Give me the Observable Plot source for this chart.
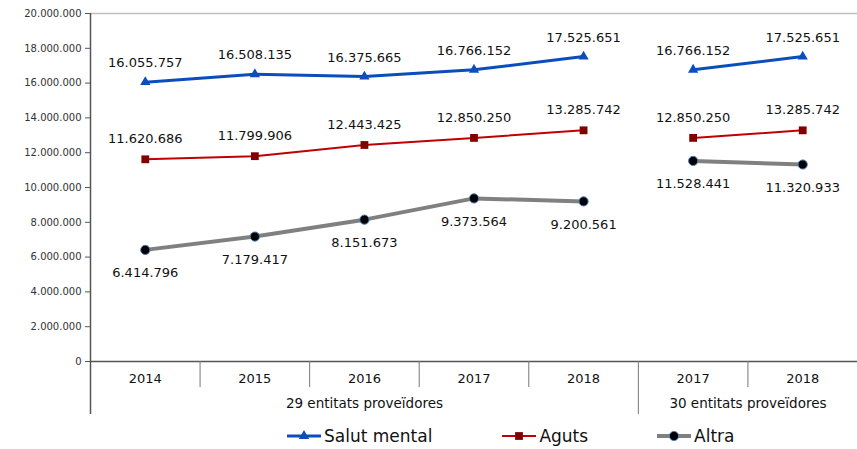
<!DOCTYPE html>
<html>
<head>
<meta charset="utf-8">
<script src="https://cdn.jsdelivr.net/npm/d3@7"></script>
<script src="https://cdn.jsdelivr.net/npm/@observablehq/plot@0.6"></script>
<style>
  html, body { margin: 0; padding: 0; background: #fff; }
  #chart svg { display: block; }
  #legend { display: flex; align-items: center; height: 27px; padding-left: 287px;
            font-family: "DejaVu Sans", Verdana, sans-serif; font-size: 17px; color: #111; }
  #legend .item { display: flex; align-items: center; }
  #legend .item:nth-child(2) { margin-left: 70px; }
  #legend .item:nth-child(3) { margin-left: 69px; }
  #legend svg { display: block; margin-right: 3px; }
</style>
</head>
<body>
<div id="chart"></div>
<div id="legend"></div>
<script>
// ---- data ----
const yearLabels = ["2014", "2015", "2016", "2017", "2018", "2017", "2018"];
const groupOf = [0, 0, 0, 0, 0, 1, 1];
const groupLabels = ["29 entitats proveïdores", "30 entitats proveïdores"];
const seriesNames = ["Salut mental", "Aguts", "Altra"];
const salutMental = [16055757, 16508135, 16375665, 16766152, 17525651, 16766152, 17525651];
const aguts = [11620686, 11799906, 12443425, 12850250, 13285742, 12850250, 13285742];
const altra = [6414796, 7179417, 8151673, 9373564, 9200561, 11528441, 11320933];
const yTicks = [0, 2000000, 4000000, 6000000, 8000000, 10000000, 12000000, 14000000, 16000000, 18000000, 20000000];

// ---- styles ----
const styles = {
  "Salut mental": {color: "#0a4dbd", width: 3, symbol: "triangle", r: 3.8, fill: "#0a4dbd", stroke: "none", dy: -19},
  "Aguts": {color: "#c00000", width: 2, symbol: "square", r: 4.4, fill: "#800000", stroke: "none", dy: -20},
  "Altra": {color: "#808080", width: 4, symbol: "circle", r: 4.6, fill: "#000000", stroke: "#4a7ebb", dy: 23}
};

const fmt = d3.formatLocale({decimal: ",", thousands: ".", grouping: [3], currency: ["", "€"]}).format(",d");

const values = {"Salut mental": salutMental, "Aguts": aguts, "Altra": altra};
const rows = seriesNames.flatMap(s => values[s].map((v, i) => ({series: s, i, v, seg: groupOf[i]})));

const idx = d3.range(yearLabels.length);
const seps = idx.map(i => ({pos: i - 0.5, i, groupStart: i === 0 || groupOf[i] !== groupOf[i - 1]}));
const groups = groupLabels.map((label, g) => {
  const members = idx.filter(i => groupOf[i] === g);
  return {label, cx: (d3.min(members) + d3.max(members)) / 2};
});

const font = "'DejaVu Sans', Verdana, sans-serif";
const marks = [
  Plot.ruleY([yTicks[yTicks.length - 1]], {stroke: "#c0c0c0", strokeWidth: 1.5}),
  Plot.axisY({ticks: yTicks, tickFormat: fmt, tickSize: 5, tickPadding: 4, fontSize: 10, label: null, stroke: "#555", fill: "#333"}),
  Plot.ruleY([0], {stroke: "#555", strokeWidth: 1.5}),
  // separators in the category axis area
  Plot.ruleX(seps.filter(d => !d.groupStart), {x: "pos", stroke: "#777", strokeWidth: 1, insetTop: 348, insetBottom: -26}),
  Plot.ruleX(seps.filter(d => d.groupStart && d.i > 0), {x: "pos", stroke: "#777", strokeWidth: 1, insetTop: 348, insetBottom: -53}),
  Plot.ruleX(seps.filter(d => d.i === 0), {x: "pos", stroke: "#555", strokeWidth: 1.5, insetBottom: -53}),
  // year labels
  Plot.text(idx, {x: d => d, text: d => yearLabels[d], frameAnchor: "bottom", dy: 21, fontSize: 13, fill: "#111"}),
  // group labels
  Plot.text(groups, {x: "cx", text: "label", frameAnchor: "bottom", dy: 46, fontSize: 13.5, fill: "#111"})
];

for (const s of seriesNames) {
  const st = styles[s];
  const data = rows.filter(d => d.series === s);
  marks.push(Plot.line(data, {x: "i", y: "v", z: "seg", stroke: st.color, strokeWidth: st.width}));
}
for (const s of seriesNames) {
  const st = styles[s];
  const data = rows.filter(d => d.series === s);
  marks.push(Plot.dot(data, {x: "i", y: "v", symbol: () => st.symbol, r: st.r, fill: st.fill, stroke: st.stroke, strokeWidth: 1}));
  marks.push(Plot.text(data, {x: "i", y: "v", text: d => fmt(d.v), dy: st.dy, fontSize: 13, fill: "#111"}));
}

const chart = Plot.plot({
  width: 857,
  height: 422,
  marginLeft: 90,
  marginRight: 0,
  marginTop: 13,
  marginBottom: 61,
  style: {fontFamily: font, background: "#fff", overflow: "visible"},
  x: {type: "linear", domain: [-0.5, yearLabels.length - 0.5], axis: null},
  y: {domain: [0, yTicks[yTicks.length - 1]], axis: null},
  symbol: {type: "identity"},
  marks
});
document.getElementById("chart").appendChild(chart);

// ---- legend ----
const legend = d3.select("#legend");
for (const s of seriesNames) {
  const st = styles[s];
  const item = legend.append("div").attr("class", "item");
  const svg = item.append("svg").attr("width", 34).attr("height", 14);
  svg.append("line").attr("x1", 0).attr("x2", 34).attr("y1", 7).attr("y2", 7)
    .attr("stroke", st.color).attr("stroke-width", st.width);
  const sym = {triangle: d3.symbolTriangle, square: d3.symbolSquare, circle: d3.symbolCircle}[st.symbol];
  svg.append("path").attr("transform", "translate(17,7)")
    .attr("d", d3.symbol(sym, Math.PI * st.r * st.r)())
    .attr("fill", st.fill).attr("stroke", st.stroke).attr("stroke-width", 1);
  item.append("span").text(s);
}
</script>
</body>
</html>
